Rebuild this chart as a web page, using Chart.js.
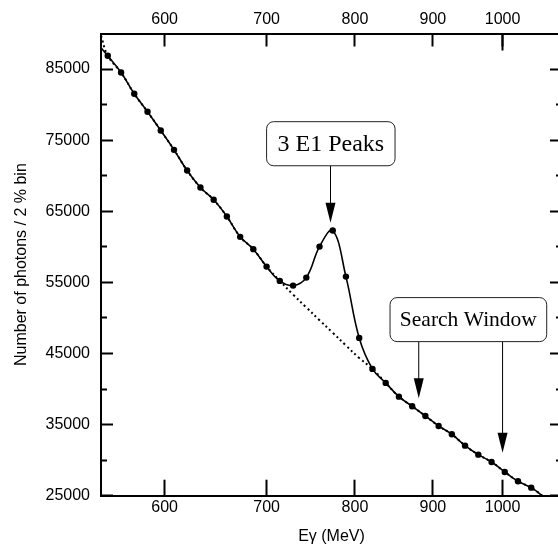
<!DOCTYPE html>
<html>
<head>
<meta charset="utf-8">
<script src="https://cdn.jsdelivr.net/npm/chart.js@4"></script>
<style>
  html, body { margin: 0; padding: 0; background: #fff; overflow: hidden; }
</style>
</head>
<body>
<canvas id="spectrum" width="570" height="549"></canvas>
<script>
// photon energy of each 2 % bin (MeV) and the counts in it
const energy = [550.6, 561.8, 573.1, 584.7, 596.5, 608.6, 620.8, 633.4, 646.2, 659.2, 672.6, 686.1,
                700.0, 714.1, 728.6, 743.3, 758.3, 773.6, 789.2, 805.2, 821.5, 838.1, 855.0, 872.3,
                889.9, 907.9, 926.2, 944.9, 964.0, 983.5, 1003.3, 1023.6, 1044.3];
const photons = [86870, 84520, 81520, 78990, 76360, 73640, 70730, 68340, 66610, 64260, 61400, 59670,
                 57220, 55210, 54550, 55670, 60030, 62290, 55810, 47190, 42830, 40860, 38930, 37580,
                 36210, 34810, 33640, 32040, 30770, 29740, 28340, 27030, 26130];
// smooth background under the peak (dotted curve)
const background = [86870, 84520, 81520, 78990, 76360, 73640, 70730, 68340, 66610, 64260, 61400, 59670,
                    57220, 55210, 53280, 51480, 49680, 47920, 46120, 44360, 42830, 40860, 38930, 37580,
                    36210, 34810, 33640, 32040, 30770, 29740, 28340, 27030, 26130];
// where the curves leave the frame
const edgeEnergy = [545, 1065];
const fitEdge = [88000, 24800];
const bgEdge = [89700, 24800];

const xTicks = [600, 700, 800, 900, 1000];
const yTicks = [25000, 35000, 45000, 55000, 65000, 75000, 85000];
const yMinorTicks = [30000, 40000, 50000, 60000, 70000, 80000];

const xMin = 545, xMax = 1094;
const yMin = 25000, yMax = 90000;

function curve(values, edge) {
    const pts = energy.map((e, i) => ({ x: e, y: values[i] }));
    return [{ x: edgeEnergy[0], y: edge[0] }].concat(pts, [{ x: edgeEnergy[1], y: edge[1] }]);
}

const notes = [
    { text: '3 E1 Peaks', size: 24, left: 700, right: 850, top: 77600, bottom: 71400, arrows: [[771, 63400]] },
    { text: 'Search Window', size: 21.5, left: 843.6, right: 1069, top: 52860, bottom: 46670, arrows: [[881, 38700], [1000, 31050]] }
];

const sans = '"Liberation Sans", Arial, Helvetica, sans-serif';

// boxes with arrows
const notePlugin = {
    id: 'notes',
    afterDatasetsDraw(chart) {
        const ctx = chart.ctx;
        const xs = chart.scales.x, ys = chart.scales.y;
        ctx.save();
        notes.forEach(n => {
            const x0 = xs.getPixelForValue(n.left), x1 = xs.getPixelForValue(n.right);
            const y0 = ys.getPixelForValue(n.top), y1 = ys.getPixelForValue(n.bottom);
            n.arrows.forEach(a => {
                const ax = xs.getPixelForValue(a[0]);
                const tip = ys.getPixelForValue(a[1]);
                ctx.strokeStyle = '#000';
                ctx.lineWidth = 1;
                ctx.beginPath();
                ctx.moveTo(ax, y1);
                ctx.lineTo(ax, tip - 18);
                ctx.stroke();
                ctx.fillStyle = '#000';
                ctx.beginPath();
                ctx.moveTo(ax - 5, tip - 20);
                ctx.lineTo(ax + 5, tip - 20);
                ctx.lineTo(ax, tip);
                ctx.closePath();
                ctx.fill();
            });
            ctx.beginPath();
            ctx.roundRect(x0, y0, x1 - x0, y1 - y0, 7);
            ctx.fillStyle = '#fff';
            ctx.fill();
            ctx.strokeStyle = '#222';
            ctx.lineWidth = 1;
            ctx.stroke();
            ctx.fillStyle = '#000';
            ctx.font = n.size + 'px "Liberation Serif", "Times New Roman", serif';
            ctx.textAlign = 'center';
            ctx.textBaseline = 'middle';
            ctx.fillText(n.text, (x0 + x1) / 2, (y0 + y1) / 2 + 1);
        });
        ctx.restore();
    }
};

function fixTicks(list) {
    return scale => { scale.ticks = list.map(v => ({ value: v })); };
}
function fixWidth(w) { return scale => { scale.width = w; }; }
function fixHeight(h) { return scale => { scale.height = h; }; }

const tickOnly = (pos, list, len, size, weight) => ({
    type: pos === 'left' || pos === 'right' ? 'linear' : 'logarithmic',
    position: pos,
    min: pos === 'left' || pos === 'right' ? yMin : xMin,
    max: pos === 'left' || pos === 'right' ? yMax : xMax,
    weight: weight,
    afterBuildTicks: fixTicks(list),
    afterFit: pos === 'left' || pos === 'right' ? fixWidth(size) : fixHeight(size),
    ticks: { display: false },
    border: { display: pos === 'right', color: '#000', width: 2 },
    grid: { drawOnChartArea: false, drawTicks: true, tickLength: len, tickColor: '#000', tickWidth: 2 }
});

new Chart(document.getElementById('spectrum'), {
    type: 'line',
    data: {
        datasets: [
            {
                data: energy.map((e, i) => ({ x: e, y: photons[i] })),
                showLine: false,
                pointRadius: 3.2,
                pointBackgroundColor: '#000',
                pointBorderWidth: 0
            },
            {
                data: curve(photons, fitEdge),
                borderColor: '#000',
                borderWidth: 1.6,
                pointRadius: 0,
                tension: 0.4
            },
            {
                data: curve(background, bgEdge),
                borderColor: '#000',
                borderWidth: 2,
                borderDash: [2, 3],
                pointRadius: 0,
                tension: 0.4
            }
        ]
    },
    options: {
        responsive: false,
        animation: false,
        devicePixelRatio: 1,
        layout: { padding: 0 },
        plugins: { legend: { display: false }, tooltip: { enabled: false } },
        scales: {
            x: {
                type: 'logarithmic',
                position: 'bottom',
                min: xMin,
                max: xMax,
                weight: 0,
                afterBuildTicks: fixTicks(xTicks),
                afterFit: fixHeight(53.3),
                ticks: {
                    callback: v => String(v), autoSkip: false, maxRotation: 0,
                    color: '#000', font: { family: sans, size: 16 }, padding: 18.2
                },
                border: { display: true, color: '#000', width: 2 },
                grid: { drawOnChartArea: false, drawTicks: true, tickLength: -16, tickColor: '#000', tickWidth: 2 },
                title: {
                    display: true, text: 'Eγ (MeV)', color: '#000',
                    font: { family: sans, size: 16 }, padding: { top: 0, bottom: 2.7 }
                }
            },
            xTop: {
                type: 'logarithmic',
                position: 'top',
                min: xMin,
                max: xMax,
                weight: 1,
                afterBuildTicks: fixTicks(xTicks),
                afterFit: fixHeight(33.5),
                ticks: {
                    callback: v => String(v), autoSkip: false, maxRotation: 0,
                    color: '#000', font: { family: sans, size: 16 }, padding: 16.9
                },
                border: { display: true, color: '#000', width: 2 },
                grid: { drawOnChartArea: false, drawTicks: true, tickLength: -13, tickColor: '#000', tickWidth: 2 }
            },
            xTopDecade: tickOnly('top', [1000], -17, 0, 0),
            y: {
                type: 'linear',
                position: 'left',
                min: yMin,
                max: yMax,
                weight: 1,
                afterBuildTicks: fixTicks(yTicks),
                afterFit: fixWidth(101),
                ticks: {
                    callback: v => String(v), autoSkip: false,
                    color: '#000', font: { family: sans, size: 16 }, padding: 23
                },
                border: { display: true, color: '#000', width: 2 },
                grid: { drawOnChartArea: false, drawTicks: true, tickLength: -12, tickColor: '#000', tickWidth: 2 },
                title: {
                    display: true, text: 'Number of photons / 2 % bin', color: '#000',
                    font: { family: sans, size: 16 }, padding: { top: 12, bottom: 0 }
                }
            },
            yMinor: tickOnly('left', yMinorTicks, -6, 0, 0),
            yRightMinor: tickOnly('right', yMinorTicks, -6, 0, 0),
            yRight: tickOnly('right', yTicks, -12, 8, 1)
        }
    },
    plugins: [notePlugin]
});
</script>
</body>
</html>
